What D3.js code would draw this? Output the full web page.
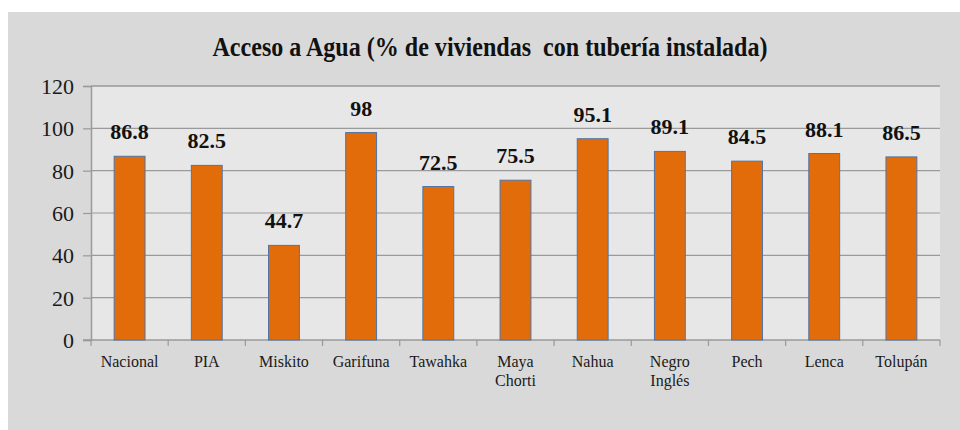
<!DOCTYPE html>
<html>
<head>
<meta charset="utf-8">
<script src="https://cdn.jsdelivr.net/npm/d3@7"></script>
</head>
<body style="margin:0">
<script>
const categories = [["Nacional"], ["PIA"], ["Miskito"], ["Garifuna"], ["Tawahka"], ["Maya", "Chorti"], ["Nahua"], ["Negro", "Inglés"], ["Pech"], ["Lenca"], ["Tolupán"]];
const values = [86.8, 82.5, 44.7, 98, 72.5, 75.5, 95.1, 89.1, 84.5, 88.1, 86.5];
const valueLabels = ["86.8", "82.5", "44.7", "98", "72.5", "75.5", "95.1", "89.1", "84.5", "88.1", "86.5"];
const yTicks = [0, 20, 40, 60, 80, 100, 120];
const title = "Acceso a Agua (% de viviendas  con tubería instalada)";

const W = 960, H = 430;
const FONT = "Liberation Serif";
const svg = d3.select("body").append("svg").attr("width", W).attr("height", H).style("display", "block");

// outer panel
svg.append("rect").attr("x", 8).attr("y", 12).attr("width", W - 8).attr("height", H - 12).attr("fill", "#d9d9d9");

const x0 = 91, x1 = 940, yTop = 86, yBot = 340;
const keys = categories.map((c, i) => i);
const x = d3.scaleBand().domain(keys).range([x0, x1]).paddingInner(0.6).paddingOuter(0.3);
const xb = d3.scaleBand().domain(keys).range([x0, x1]).padding(0);
const y = d3.scaleLinear().domain([0, 120]).range([yBot, yTop]);

// plot area
svg.append("rect").attr("x", x0).attr("y", yTop).attr("width", x1 - x0).attr("height", yBot - yTop).attr("fill", "#e7e7e7");

// gridlines
svg.append("g").selectAll("line").data(yTicks.filter(t => t > 0)).join("line")
  .attr("x1", x0).attr("x2", x1)
  .attr("y1", d => y(d)).attr("y2", d => y(d))
  .attr("stroke", d => d === 120 ? "#ababab" : "#9a9a9a")
  .attr("stroke-width", d => d === 120 ? 2 : 1.2);

// y axis
const yAxis = d3.axisLeft(y).tickValues(yTicks).tickSize(8).tickPadding(9);
const gy = svg.append("g").attr("transform", `translate(${x0},0)`).call(yAxis);
gy.attr("font-family", FONT).attr("font-size", 22);
gy.select(".domain").attr("stroke", "#9a9a9a").attr("stroke-width", 1.5);
gy.selectAll(".tick line").attr("stroke", "#9a9a9a").attr("stroke-width", 1.2);
gy.selectAll(".tick text").style("font-family", FONT)
  .style("font-size", "22px").attr("fill", "#1a1a1a").attr("dy", "0.34em");

// x axis line & ticks
svg.append("line").attr("x1", x0 - 8).attr("x2", x1).attr("y1", yBot).attr("y2", yBot)
  .attr("stroke", "#9a9a9a").attr("stroke-width", 1.5);
const tickXs = keys.map(k => xb(k)).concat([x1]);
svg.append("g").selectAll("line").data(tickXs).join("line")
  .attr("x1", d => d).attr("x2", d => d).attr("y1", yBot).attr("y2", yBot + 6)
  .attr("stroke", "#9a9a9a").attr("stroke-width", 1.2);

// bars
svg.append("g").selectAll("rect").data(values).join("rect")
  .attr("x", (d, i) => x(i)).attr("width", x.bandwidth())
  .attr("y", d => y(d)).attr("height", d => yBot - y(d))
  .attr("fill", "#e36c0a").attr("stroke", "#4f74a8").attr("stroke-width", 1);

// value labels
svg.append("g").selectAll("text").data(values).join("text")
  .attr("x", (d, i) => x(i) + x.bandwidth() / 2)
  .attr("y", d => y(d) - 17)
  .attr("text-anchor", "middle")
  .style("font-family", FONT)
  .style("font-weight", "bold").style("font-size", "22px").attr("fill", "#111")
  .text((d, i) => valueLabels[i]);

// category labels
const cl = svg.append("g").selectAll("text").data(categories).join("text")
  .attr("x", (d, i) => xb(i) + xb.bandwidth() / 2)
  .attr("y", 367)
  .attr("text-anchor", "middle")
  .style("font-family", FONT)
  .style("font-size", "16px").attr("fill", "#1a1a1a");
cl.each(function(d, i) {
  const t = d3.select(this);
  d.forEach((line, j) => {
    t.append("tspan").attr("x", xb(i) + xb.bandwidth() / 2).attr("dy", j === 0 ? 0 : 19)
      .style("font-family", FONT).text(line);
  });
});

// title
svg.append("text").attr("x", 490).attr("y", 56).attr("text-anchor", "middle")
  .style("font-family", FONT)
  .style("font-weight", "bold").style("font-size", "27px").attr("fill", "#111")
  .style("white-space", "pre")
  .attr("textLength", 555).attr("lengthAdjust", "spacingAndGlyphs")
  .text(title);
</script>
</body>
</html>
